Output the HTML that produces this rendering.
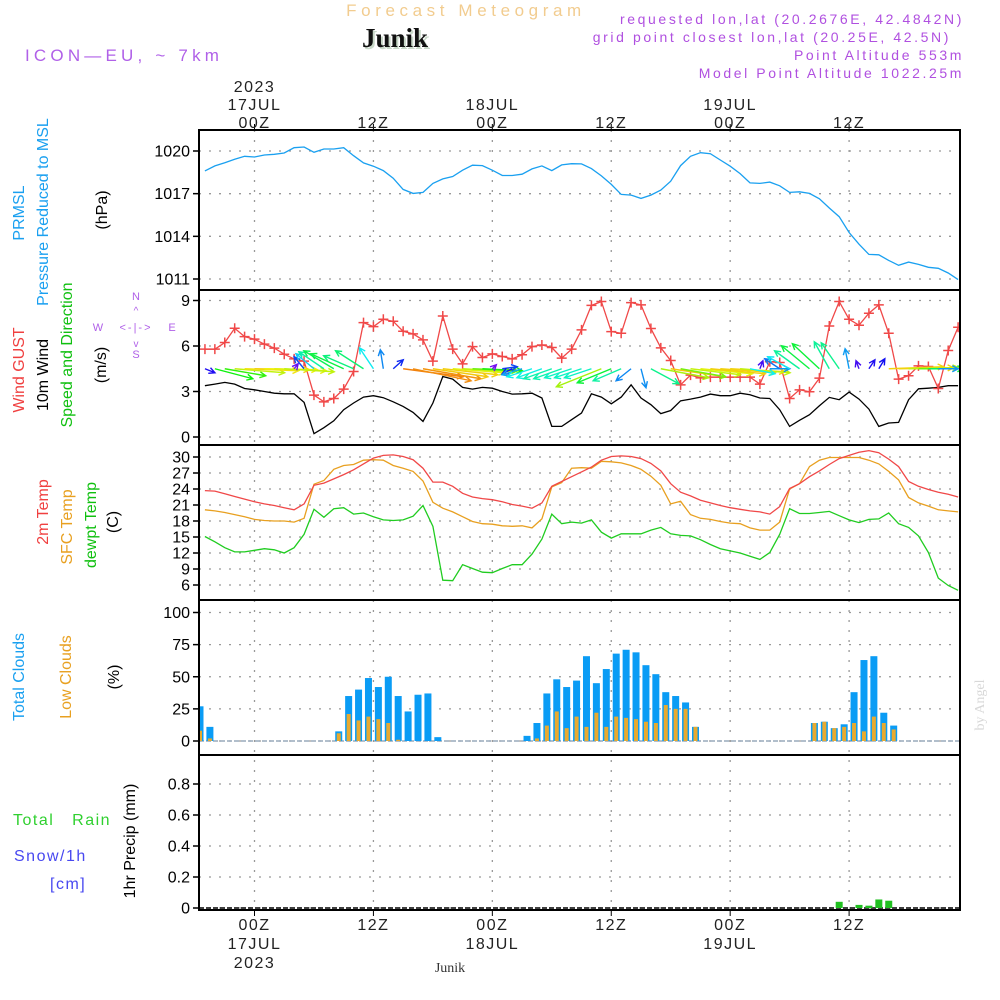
<!DOCTYPE html>
<html><head><meta charset="utf-8"><style>
html,body{margin:0;padding:0;background:#fff;width:1000px;height:1000px;overflow:hidden}
svg{display:block}
text{font-family:"Liberation Sans",sans-serif}
</style></head><body>
<svg id="chart" width="1000" height="1000" viewBox="0 0 1000 1000" xmlns="http://www.w3.org/2000/svg">
<defs><clipPath id="plotclip"><rect x="199" y="130" width="761" height="780"/></clipPath></defs>
<g>
<text x="466" y="16" text-anchor="middle" font-size="17" fill="#f2cc8f" letter-spacing="4.6">Forecast Meteogram</text>
<text x="397" y="49" text-anchor="middle" font-size="27" font-weight="bold" fill="#c8d8c8" style="font-family:'Liberation Serif',serif">Junik</text>
<text x="395" y="47" text-anchor="middle" font-size="27" font-weight="bold" fill="#111" style="font-family:'Liberation Serif',serif">Junik</text>
<text x="25" y="61" font-size="17" fill="#b060e8" letter-spacing="4.2">ICON—EU, ~ 7km</text>
<g font-size="14" fill="#b050e0" text-anchor="end" letter-spacing="2.6">
<text x="964" y="24">requested lon,lat (20.2676E, 42.4842N)</text>
<text x="951" y="42">grid point closest lon,lat (20.25E, 42.5N)</text>
<text x="964" y="60">Point Altitude 553m</text>
<text x="964" y="78">Model Point Altitude 1022.25m</text>
</g>
</g>
<g id="grid"></g>
<g id="marks" clip-path="url(#plotclip)"></g>
<g id="axes"></g>
<g font-size="16">
<text transform="translate(24,213) rotate(-90)" text-anchor="middle" fill="#1aa0f0">PRMSL</text>
<text transform="translate(48,212) rotate(-90)" text-anchor="middle" fill="#1aa0f0">Pressure Reduced to MSL</text>
<text transform="translate(107,210) rotate(-90)" text-anchor="middle" fill="#000">(hPa)</text>
<text transform="translate(24,370) rotate(-90)" text-anchor="middle" fill="#f04040">Wind GUST</text>
<text transform="translate(48,375) rotate(-90)" text-anchor="middle" fill="#000">10m Wind</text>
<text transform="translate(72,355) rotate(-90)" text-anchor="middle" fill="#10c010">Speed and Direction</text>
<text transform="translate(106,365) rotate(-90)" text-anchor="middle" fill="#000">(m/s)</text>
<g fill="#b060e8" font-size="11" text-anchor="middle">
<text x="136" y="300">N</text><text x="136" y="358">S</text><text x="98" y="331">W</text><text x="172" y="331">E</text>
<text x="136" y="331" font-size="11" letter-spacing="2">&lt;-|-&gt;</text>
<text x="136" y="314" font-size="10">^</text><text x="136" y="347" font-size="10">v</text>
</g>
<text transform="translate(48,512) rotate(-90)" text-anchor="middle" fill="#f04040">2m Temp</text>
<text transform="translate(72,527) rotate(-90)" text-anchor="middle" fill="#e8a020">SFC Temp</text>
<text transform="translate(96,525) rotate(-90)" text-anchor="middle" fill="#10c010">dewpt Temp</text>
<text transform="translate(118,522) rotate(-90)" text-anchor="middle" fill="#000">(C)</text>
<text transform="translate(24,677) rotate(-90)" text-anchor="middle" fill="#1aa0f0">Total Clouds</text>
<text transform="translate(71,677) rotate(-90)" text-anchor="middle" fill="#e8a020">Low Clouds</text>
<text transform="translate(119,677) rotate(-90)" text-anchor="middle" fill="#000">(%)</text>
<text x="13" y="825" fill="#30d030" letter-spacing="1.5">Total&#160;&#160;&#160;Rain</text>
<text x="14" y="861" fill="#4848f0" letter-spacing="1.5">Snow/1h</text>
<text x="50" y="889" fill="#4848f0" letter-spacing="1.5">[cm]</text>
<text transform="translate(135,841) rotate(-90)" text-anchor="middle" fill="#000">1hr Precip (mm)</text>
<text transform="translate(984,705) rotate(-90)" text-anchor="middle" fill="#d8d8d8" font-size="14" style="font-family:'Liberation Serif',serif">by Angel</text>
<text x="450" y="972" text-anchor="middle" font-size="14" fill="#333" style="font-family:'Liberation Serif',serif">Junik</text>
</g>
</svg>
<script>
// ---- data (hourly, starting hour -5 relative to 17JUL 00Z) ----
const startHour = -5;
const pressure = [1018.60,1018.95,1019.18,1019.42,1019.63,1019.58,1019.72,1019.77,1019.86,1020.23,1020.28,1019.91,1020.14,1020.14,1020.23,1019.67,1019.16,1018.93,1018.62,1018.09,1017.30,1017.02,1017.09,1017.72,1018.04,1018.21,1018.65,1019.00,1018.97,1018.65,1018.28,1018.28,1018.37,1018.74,1018.95,1018.62,1019.02,1019.11,1019.09,1018.76,1018.25,1017.65,1016.95,1016.90,1016.67,1016.90,1017.25,1017.88,1018.97,1019.63,1019.88,1019.81,1019.37,1018.93,1018.41,1017.76,1017.72,1017.81,1017.55,1017.09,1017.13,1017.02,1016.64,1015.99,1015.38,1014.27,1013.45,1012.73,1012.70,1012.31,1011.96,1012.19,1012.03,1011.82,1011.75,1011.42,1010.96];
const gust = [5.79,5.79,6.23,7.17,6.62,6.45,6.12,5.86,5.46,5.15,5.0,2.76,2.32,2.54,3.16,4.32,7.54,7.28,7.76,7.63,6.97,6.80,6.40,5.0,7.98,5.79,4.82,5.96,5.24,5.48,5.31,5.15,5.42,5.96,6.07,5.90,5.20,5.79,7.06,8.68,8.93,6.95,6.84,8.86,8.71,7.15,5.88,5.04,3.44,4.08,3.90,3.95,3.95,3.95,3.95,3.95,3.49,4.96,4.91,2.54,3.11,2.98,3.88,7.32,8.93,7.76,7.37,8.16,8.71,6.84,3.82,4.04,4.69,4.65,3.20,5.70,7.24];
const wind10 = [3.38,3.49,3.60,3.49,3.20,3.11,3.0,2.89,2.85,2.85,2.28,0.22,0.61,1.07,1.80,2.24,2.63,2.72,2.59,2.32,2.02,1.62,1.03,2.24,3.99,3.82,3.27,3.16,3.27,3.22,3.0,2.83,2.85,2.89,2.57,0.70,0.70,1.14,1.58,2.85,2.63,2.19,2.63,3.44,2.57,2.13,1.54,1.75,2.39,2.50,2.63,2.83,2.72,2.72,2.89,2.79,2.57,2.54,1.80,0.70,1.10,1.47,2.06,2.61,2.46,2.96,2.50,1.84,0.70,0.92,0.96,2.46,3.18,3.22,3.27,3.38,3.38];
const windU = [1.0,3.8,4.1,5.0,5.4,5.5,5.3,5.2,5.0,0.4,-1.0,-1.8,-2.5,-3.0,-3.3,-3.0,-2.8,-1.4,-0.3,1.0,6.0,5.8,5.8,5.5,5.5,5.2,5.0,4.5,4.0,0.4,1.5,-1.0,-2.0,-2.5,-2.5,-2.8,-2.8,-2.7,-2.7,-2.7,-4.5,-3.4,-2.8,-1.5,0.5,2.8,4.8,5.5,4.5,5.0,5.2,5.5,5.5,5.5,5.0,2.5,0.3,2.0,-1.5,-2.2,-2.5,-2.8,-2.7,-1.5,-1.8,-0.4,-0.3,0.6,0.6,5.5,5.5,5.0,4.5,3.5,2.0,2.0,2.0];
const windV = [-0.4,-1.0,-0.7,-0.4,-0.2,-0.1,-0.1,-0.2,-0.3,0.5,1.2,1.5,1.7,1.8,1.5,1.3,1.8,2.1,1.9,0.9,-0.8,-1.2,-1.0,-0.8,-0.6,-0.4,-0.3,-0.2,-0.2,0.4,0.2,-0.5,-0.6,-0.8,-0.9,-1.0,-1.0,-0.9,-0.9,-0.9,-1.8,-1.4,-1.2,-1.2,-1.9,-1.5,-0.9,-0.8,-0.8,-0.6,-0.5,-0.5,-0.4,-0.3,-0.4,-0.5,0.8,0.0,1.0,1.2,1.8,2.3,2.5,2.7,2.6,2.0,0.8,0.9,1.0,0.2,0.1,0.1,0.0,0.0,0.0,0.0,0.0];
const temp2m = [23.7,23.6,23.1,22.6,22.1,21.6,21.2,20.9,20.5,20.1,21.2,24.7,25.1,25.9,26.7,27.6,28.7,29.8,30.3,30.4,30.1,29.5,27.9,25.3,25.3,24.5,23.2,22.5,22.2,22.0,21.6,21.1,20.8,20.4,21.4,24.5,25.4,26.3,27.2,28.1,29.4,30.1,30.2,30.1,29.7,28.8,27.4,25.0,23.4,22.7,21.9,21.4,20.9,20.5,20.2,19.9,19.7,19.3,20.7,24.1,25.0,26.3,27.4,28.6,29.7,30.3,30.9,31.2,30.8,29.6,28.2,25.4,24.5,23.9,23.4,23.0,22.5];
const tempSfc = [20.1,19.9,19.6,19.2,18.8,18.3,18.1,18.0,18.0,17.8,18.5,24.9,25.6,27.7,28.4,28.6,29.4,29.5,29.4,28.4,27.9,27.3,25.5,21.5,20.4,19.7,18.8,17.9,17.5,17.4,17.1,17.0,17.1,16.7,18.4,24.4,25.2,27.9,28.0,27.9,29.2,29.1,28.9,28.4,27.7,26.4,24.7,21.2,21.7,19.2,18.5,18.3,17.9,17.6,17.5,16.7,16.3,16.3,17.8,24.0,25.0,28.2,29.4,29.9,29.9,29.9,29.9,29.4,28.7,27.3,25.7,22.4,21.4,20.8,20.1,19.9,19.7];
const dewpt = [15.1,14.1,13.0,12.2,12.2,12.5,12.8,12.6,12.0,13.0,15.5,20.2,18.7,20.3,20.5,19.3,19.5,18.8,18.2,18.1,18.2,18.9,20.9,17.0,6.9,6.8,9.8,9.1,8.4,8.3,9.1,9.8,9.8,11.8,14.6,19.3,17.5,17.8,17.6,18.2,15.9,14.8,15.6,15.6,15.6,16.3,16.8,15.6,15.3,15.2,14.5,13.6,12.8,12.4,12.0,11.4,10.8,12.1,15.5,20.3,19.4,19.4,19.6,19.8,19.0,18.2,17.7,18.3,18.4,19.5,17.5,16.8,15.2,12.1,7.3,5.9,5.0];
const cloudStart = -5.5;
const cloudTotal = [27,11,0,0,0,0,0,0,0,0,0,0,0,0,7.5,35,40,49,42,50,35,23,36,37,3,0,0,0,0,0,0,0,0,4,14,37,48,42,47,66,45,56,68,71,69,59,52,38,35,30,11,0,0,0,0,0,0,0,0,0,0,0,14,15,10,13,38,63,66,22,12,0,0,0,0,0,0];
const cloudLow = [8,2,0,0,0,0,0,0,0,0,0,0,0,0,6,21,16,19,17,14,1,0,0,0,0,0,0,0,0,0,0,0,0,0,2,12,23,10,19,11,22,11,19,18,17,15,14,28,25,25,11,0,0,0,0,0,0,0,0,0,0,0,14,15,10,11,14,7.5,19,14,9,0,0,0,0,0,0];
const precipHours = [59,60,61,62,63,64];
const precipVals = [0.04,0,0.02,0.015,0.055,0.047];
const pTicks = [1020,1017,1014,1011];
const wTicks = [9,6,3,0];
const tTicks = [30,27,24,21,18,15,12,9,6];
const cTicks = [100,75,50,25,0];
const rTicks = ["0.8","0.6","0.4","0.2","0"];
const timeTicks = [0,12,24,36,48,60];
const timeLabels = ["00Z","12Z","00Z","12Z","00Z","12Z"];
const dayLabels = ["17JUL","","18JUL","","19JUL",""];

// ---- scales ----
const L=199, R=960;
const X = h => 254.5 + 9.91*h;
const lin = (d0,d1,r0,r1) => v => r0 + (v-d0)*(r1-r0)/(d1-d0);
const yP = lin(1020,1011,151,279);
const yW = lin(9,0,300.5,437);
const yT = lin(30,6,457,585);
const yC = lin(100,0,612.5,741);
const yR = lin(0.8,0,784,908);
const panels=[130,290,445,600,755,910];
const NS="http://www.w3.org/2000/svg";
function mk(tag,attrs,parent){const e=document.createElementNS(NS,tag);for(const k in attrs)e.setAttribute(k,attrs[k]);parent.appendChild(e);return e;}
const grid=document.getElementById('grid'), marks=document.getElementById('marks'), axes=document.getElementById('axes');

timeTicks.forEach(h=>{
  const g=mk('line',{x1:X(h),x2:X(h),y1:panels[0],y2:panels[5],stroke:'#999','stroke-width':1.3,'stroke-dasharray':'2,8'},grid);
  
  
});
function hgrid(ticks,sc){ticks.forEach(t=>{const y=sc(+t);
  const g=mk('line',{x1:L,x2:R,y1:y,y2:y,stroke:'#999','stroke-width':1.3,'stroke-dasharray':'2,8'},grid);
  
  
  mk('line',{x1:L-6,x2:L,y1:y,y2:y,stroke:'#000','stroke-width':1.5},axes);
  const tx=mk('text',{x:L-9,y:y+5.5,'text-anchor':'end','font-size':16,fill:'#000'},axes);
  tx.textContent=t;
  
  
});}
hgrid(pTicks,yP);hgrid(wTicks,yW);hgrid(tTicks,yT);hgrid(cTicks,yC);hgrid(rTicks,yR);

for(let i=0;i<5;i++){
  const r=mk('rect',{x:L,y:panels[i],width:R-L,height:panels[i+1]-panels[i],fill:'none',stroke:'#000','stroke-width':2},axes);
  
  
}
timeTicks.forEach((h,i)=>{
  const x=X(h);
  mk('line',{x1:x,x2:x,y1:panels[0]-6,y2:panels[0],stroke:'#000'},axes);
  mk('line',{x1:x,x2:x,y1:panels[5],y2:panels[5]+6,stroke:'#000'},axes);
  const a=mk('text',{x:x,y:128,'text-anchor':'middle','font-size':16,fill:'#222','letter-spacing':'1.5'},axes);a.textContent=timeLabels[i];
  
  
  const b=mk('text',{x:x,y:930,'text-anchor':'middle','font-size':16,fill:'#222','letter-spacing':'1.5'},axes);b.textContent=timeLabels[i];
  
  
  if(dayLabels[i]){
    const c=mk('text',{x:x,y:110,'text-anchor':'middle','font-size':16,fill:'#222','letter-spacing':'1.5'},axes);c.textContent=dayLabels[i];
    
    
    const d=mk('text',{x:x,y:949,'text-anchor':'middle','font-size':16,fill:'#222','letter-spacing':'1.5'},axes);d.textContent=dayLabels[i];
    
    
  }
});
[92,968].forEach(y=>{const t=mk('text',{x:X(0),y:y,'text-anchor':'middle','font-size':16,fill:'#222','letter-spacing':'1.5'},axes);t.textContent='2023';
  
  });

function line(arr,sc,color,name,w){
  const pts=arr.map((v,i)=>X(startHour+i).toFixed(1)+','+sc(v).toFixed(1)).join(' ');
  const p=mk('polyline',{points:pts,fill:'none',stroke:color,'stroke-width':w||1.3},marks);
  
  
}
line(pressure,yP,'#1aa0f0','pressure-line');
line(wind10,yW,'#000','wind-speed-line');
line(gust,yW,'#f04848','gust-line');
gust.forEach((v,i)=>{const x=X(startHour+i),y=yW(v);
  const p=mk('path',{d:`M${x-5},${y}H${x+5}M${x},${y-5}V${y+5}`,stroke:'#f04848','stroke-width':1.5},marks);
  
  
});
windU.forEach((u,i)=>{
  const v=windV[i]; const x0=X(startHour+i), y0=yW(4.5);
  const dx=u*10, dy=-v*10; const m=Math.hypot(dx,dy); if(m<1)return;
  const t=Math.min(1,Math.max(0,(m-5)/55)); const hue=270-240*t;
  const col=`hsl(${hue},90%,50%)`;
  const x1=x0+dx,y1=y0+dy, ux=dx/m, uy=dy/m, hl=6;
  const d=`M${x0},${y0}L${x1},${y1}M${x1-hl*ux+hl*0.5*uy},${y1-hl*uy-hl*0.5*ux}L${x1},${y1}L${x1-hl*ux-hl*0.5*uy},${y1-hl*uy+hl*0.5*ux}`;
  const p=mk('path',{d:d,stroke:col,'stroke-width':1.4,fill:'none'},marks);
  
  
});
line(tempSfc,yT,'#e8a020','sfc-temp-line');
line(temp2m,yT,'#f04848','temp-2m-line');
line(dewpt,yT,'#20cc20','dewpt-line');
const base=yC(0);
mk('line',{x1:L,x2:R,y1:base,y2:base,stroke:'#9ab','stroke-width':1.5,'stroke-dasharray':'5,2'},marks);
cloudTotal.forEach((v,k)=>{
  const xc=X(cloudStart+k);
  if(v>0){const x0=Math.max(L,xc-3.5),x1=Math.min(R,xc+3.5);
    const b=mk('rect',{x:x0,y:yC(v),width:x1-x0,height:base-yC(v),fill:'#0a9cf5'},marks);
    
    }
  const lv=cloudLow[k];
  if(lv>0){const x0=Math.max(L,xc-2),x1=Math.min(R,xc+2);
    const o=mk('rect',{x:x0,y:yC(lv),width:x1-x0,height:base-yC(lv),fill:'#e8aa30'},marks);
    
    }
});
mk('line',{x1:L,x2:R,y1:yR(0),y2:yR(0),stroke:'#000','stroke-width':1.5,'stroke-dasharray':'5,2'},marks);
precipHours.forEach((h,i)=>{const v=precipVals[i];if(v<=0)return;const xc=X(h);
  const b=mk('rect',{x:xc-3.5,y:yR(v),width:7,height:yR(0)-yR(v),fill:'#20c020'},marks);
  
  
});
</script>
</body></html>
